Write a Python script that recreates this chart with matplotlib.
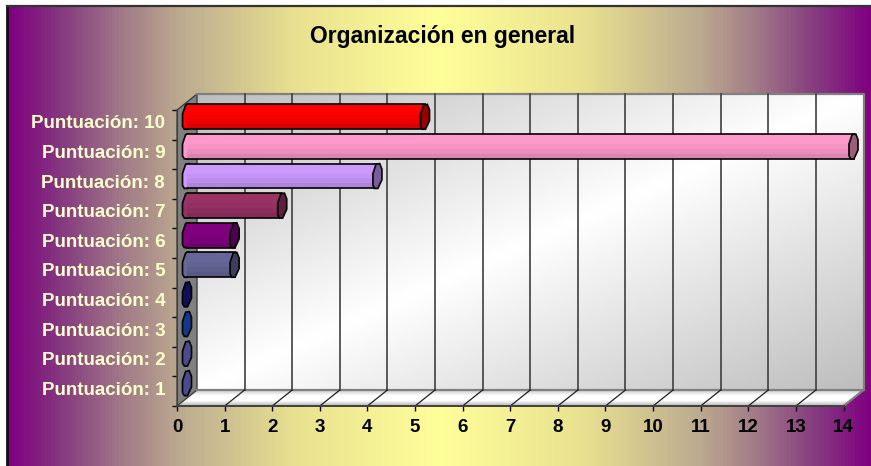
import numpy as np
import matplotlib
matplotlib.use("Agg")
import matplotlib.pyplot as plt
import matplotlib.colors as mcolors
from matplotlib.patches import Polygon
from matplotlib.transforms import Affine2D

categories = ["Puntuación: 1", "Puntuación: 2", "Puntuación: 3", "Puntuación: 4", "Puntuación: 5",
              "Puntuación: 6", "Puntuación: 7", "Puntuación: 8", "Puntuación: 9", "Puntuación: 10"]
values = [0, 0, 0, 0, 1, 1, 2, 4, 14, 5]
bar_colors = ["#4a4a8c", "#4a4a8c", "#123a8c", "#10105a", "#666699",
              "#800080", "#993366", "#CC99FF", "#FF99CC", "#FF0000"]
title = "Organización en general"

W, H = 871, 466
plt.rcParams['font.family'] = ['Liberation Sans', 'DejaVu Sans']
fig = plt.figure(figsize=(W / 100, H / 100), dpi=100)

# fondo con degradado morado -> amarillo -> morado
bg = fig.add_axes([0, 0, 1, 1], zorder=0)
bg_stops = [(0, "#800080"), (0.12, "#85387f"), (0.26, "#a07888"), (0.39, "#bba88f"),
            (0.66, "#e8e090"), (1, "#FFFF99")]
half = [(t / 2, c) for t, c in bg_stops] + [(1 - t / 2, c) for t, c in bg_stops[-2::-1]]
cmap_bg = mcolors.LinearSegmentedColormap.from_list("bg", half)
bg.imshow(np.linspace(0, 1, 864)[None, :], cmap=cmap_bg, extent=(7, W, H, 6), aspect="auto")
bg.plot([7, 7], [H, 6], color="#111111", lw=2, solid_capstyle="projecting")
bg.plot([7, W], [6, 6], color="#333333", lw=1.6)
bg.set_xlim(0, W)
bg.set_ylim(H, 0)
bg.axis("off")

# plano frontal del grafico
x0, x1, y_top, y_bot = 177, 843.5, 110, 406
ax = fig.add_axes([x0 / W, 1 - y_bot / H, (x1 - x0) / W, (y_bot - y_top) / H], zorder=1)
ax.patch.set_visible(False)
n = len(categories)
xmax = 14
px_x = (x1 - x0) / xmax
px_y = (y_bot - y_top) / n

depth_x, depth_y = 20, 16
back = ax.transData + Affine2D().translate(depth_x, depth_y)
mid = ax.transData + Affine2D().translate(depth_x / 2, depth_y / 2)
ddx, ddy = depth_x / px_x, depth_y / px_y

# pared del fondo
cmap_wall = mcolors.LinearSegmentedColormap.from_list("wall", ["#bdbdbd", "#ffffff", "#bdbdbd"])
u, v = np.meshgrid(np.linspace(0, 1, 200), np.linspace(0, 1, 200))
wall = ax.imshow((u + v) / 2, cmap=cmap_wall, extent=(0, xmax, 0, n), aspect="auto",
                 vmin=0, vmax=1, zorder=1, origin="upper")
wall.set_transform(back)
wall.set_clip_on(False)

# suelo
floor_pts = [(0, 0), (xmax, 0), (xmax + ddx, ddy), (ddx, ddy)]
cmap_floor = mcolors.LinearSegmentedColormap.from_list("floor", ["#c8c8c8", "#ffffff", "#ffffff", "#b0b0b0"])
floor = ax.imshow(np.linspace(0, 1, 64)[:, None], cmap=cmap_floor, extent=(0, xmax + ddx, 0, ddy),
                  aspect="auto", zorder=1, origin="upper")
floor.set_clip_box(fig.bbox)
floor.set_clip_path(Polygon(floor_pts, transform=ax.transData))

# pared lateral
ax.add_patch(Polygon([(0, 0), (ddx, ddy), (ddx, n + ddy), (0, n)], fc="#808080", ec="#404040", lw=1,
                     zorder=2, clip_on=False))
ax.plot([ddx, xmax + ddx, xmax + ddx], [n + ddy, n + ddy, ddy], color="#808080", lw=1.6, zorder=2, clip_on=False)
ax.plot([ddx, xmax + ddx, xmax], [ddy, ddy, 0], color="#808080", lw=1.6, zorder=2, clip_on=False)

# rejilla
for k in range(1, xmax):
    ax.plot([k, k], [0, n], color="#404040", lw=1.2, transform=back, zorder=2, clip_on=False)
    ax.plot([k, k + ddx], [0, ddy], color="#202020", lw=0.9, zorder=2, clip_on=False)

# cilindros
cap_w = 4.5 / px_x
cap_h = 0.42
cap_shape = [(-1, -0.75), (-1, 0.2), (-0.3, 0.95), (0.5, 1), (1, 0.55), (1, -0.3), (0.1, -1), (-0.6, -1)]
shades = [1.0, 1.0, 0.96, 0.92, 0.86]


def cap(val, cat, color, z):
    pts = [(val + a * cap_w, cat + 0.5 + b * cap_h) for a, b in cap_shape]
    ax.add_patch(Polygon(pts, fc=color, ec="black", lw=1.2, transform=mid, zorder=z, clip_on=False))


for i, (val, col) in enumerate(zip(values, bar_colors)):
    base = np.array(mcolors.to_rgb(col))
    z = 3 + (n - i) * 0.1
    cap(0, i, col, z)
    if val > 0:
        slice_h = 2 * cap_h / len(shades)
        for j, shade in enumerate(shades):
            ax.barh(i + 0.5 + cap_h - (j + 0.5) * slice_h, val, height=slice_h, color=base * shade,
                    lw=0, transform=mid, zorder=z, clip_on=False)
        ax.plot([0, val], [i + 0.5 + cap_h] * 2, color="black", lw=1.2, transform=mid, zorder=z, clip_on=False)
        ax.plot([0, val], [i + 0.5 - cap_h] * 2, color="black", lw=1.2, transform=mid, zorder=z, clip_on=False)
        cap(val, i, base * 0.6, z + 0.01)

ax.set_xlim(0, xmax)
ax.set_ylim(0, n)

# ejes
for name in ["top", "right"]:
    ax.spines[name].set_visible(False)
ax.spines["bottom"].set_color("#404040")
ax.spines["bottom"].set_linewidth(1.4)
ax.spines["left"].set_color("#404040")
ax.set_xticks(range(0, xmax + 1))
ax.set_xticklabels([str(k) for k in range(0, xmax + 1)], fontsize=13.5, fontweight="bold", color="black")
ax.tick_params(axis="x", length=3.5, width=1, pad=5.5)
ax.set_yticks(range(0, n + 1))
ax.set_yticklabels([])
ax.tick_params(axis="y", which="major", length=3.5, width=1)
ax.set_yticks(np.arange(n) + 0.5, minor=True)
ax.set_yticklabels(categories, minor=True, fontsize=13.5, fontweight="bold", color="#FFFFCC")
ax.tick_params(axis="y", which="minor", length=0, pad=8.5)
for lab in ax.get_yticklabels(minor=True):
    lab.set_transform(lab.get_transform() + Affine2D().translate(0, 3))

fig.text(443 / W, 1 - 37 / H, title, ha="center", va="center", fontsize=16.5, fontweight="bold", color="black")

fig.savefig("out.png", dpi=100)
plt.close(fig)
